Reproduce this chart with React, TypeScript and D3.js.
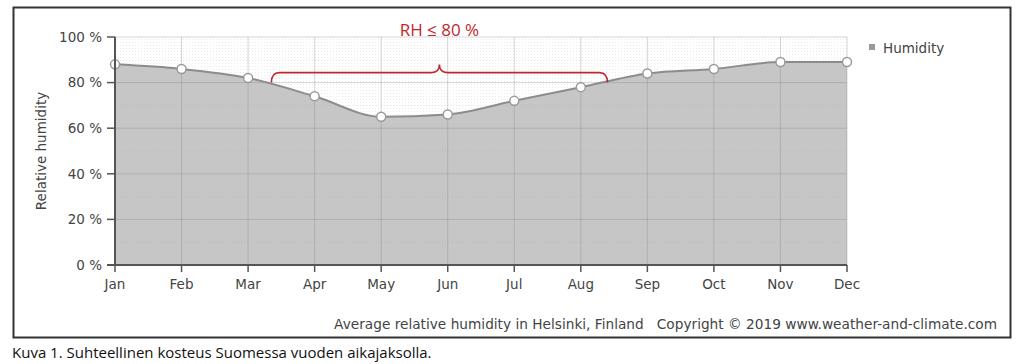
import * as d3 from "d3";

const months = ["Jan", "Feb", "Mar", "Apr", "May", "Jun", "Jul", "Aug", "Sep", "Oct", "Nov", "Dec"];
const humidity = [88, 86, 82, 74, 65, 66, 72, 78, 84, 86, 89, 89];
const yTicks = [0, 20, 40, 60, 80, 100];
const minorTicks = [10, 30, 50, 70, 90];
// where the curve is at or below 80 % (fractional month index)
const braceRange = [2.35, 7.4];
const braceLevel = 80;

const W = 1024;
const H = 364;
const font = "Tahoma, 'DejaVu Sans', Verdana, sans-serif";

export default function App() {
  const x = d3.scaleLinear().domain([0, months.length - 1]).range([115, 847]);
  const y = d3.scaleLinear().domain([0, 100]).range([265, 37]);

  const pts: [number, number][] = humidity.map((v, i) => [i, v]);
  const area = d3
    .area<[number, number]>()
    .x((d) => x(d[0]))
    .y0(y(0))
    .y1((d) => y(d[1]))
    .curve(d3.curveMonotoneX);
  const line = d3
    .line<[number, number]>()
    .x((d) => x(d[0]))
    .y((d) => y(d[1]))
    .curve(d3.curveMonotoneX);

  // curly brace
  const bx0 = x(braceRange[0]);
  const bx1 = x(braceRange[1]);
  const bm = (bx0 + bx1) / 2;
  const by = y(braceLevel) - 10;
  const bEnd = y(braceLevel);
  const r = 8;
  const brace = [
    `M${bx0},${bEnd}`,
    `Q${bx0},${by} ${bx0 + r},${by}`,
    `L${bm - r},${by}`,
    `Q${bm},${by} ${bm},${by - r}`,
    `Q${bm},${by} ${bm + r},${by}`,
    `L${bx1 - r},${by}`,
    `Q${bx1},${by} ${bx1},${bEnd}`,
  ].join(" ");

  return (
    <svg width={W} height={H} style={{ position: "absolute", left: 0, top: 0, background: "#fff" }}>
      <defs>
        <pattern id="dots" width="3" height="3" patternUnits="userSpaceOnUse">
          <rect width="3" height="3" fill="#fff" />
          <rect width="1" height="1" fill="#ececec" />
        </pattern>
      </defs>
      <rect x={13.5} y={7.5} width={997} height={330} fill="#fff" stroke="#333" strokeWidth={2} />

      {/* plot background */}
      <rect x={x(0)} y={y(100)} width={x(11) - x(0)} height={y(0) - y(100)} fill="url(#dots)" />

      <path d={area(pts) ?? ""} fill="#c6c6c6" />

      {/* minor grid */}
      {minorTicks.map((t) => (
        <line key={"m" + t} x1={x(0)} x2={x(11)} y1={y(t)} y2={y(t)} stroke="#888" strokeOpacity={0.15} strokeDasharray="1,2" />
      ))}
      {/* grid */}
      {yTicks.slice(1).map((t) => (
        <line key={"h" + t} x1={x(0)} x2={x(11)} y1={y(t)} y2={y(t)} stroke="#888" strokeOpacity={0.35} />
      ))}
      {months.slice(1).map((m, i) => (
        <line key={"v" + m} x1={x(i + 1)} x2={x(i + 1)} y1={y(100)} y2={y(0)} stroke="#888" strokeOpacity={0.35} />
      ))}

      <path d={line(pts) ?? ""} fill="none" stroke="#8c8c8c" strokeWidth={2} />
      {pts.map((d, i) => (
        <circle key={i} cx={x(d[0])} cy={y(d[1])} r={4.5} fill="#fff" stroke="#9a9a9a" strokeWidth={1.5} />
      ))}

      {/* axes */}
      <line x1={x(0)} x2={x(0)} y1={y(100)} y2={y(0)} stroke="#555" strokeWidth={2} />
      <line x1={x(0) - 8} x2={x(11)} y1={y(0)} y2={y(0)} stroke="#555" strokeWidth={2} />
      {yTicks.map((t) => (
        <g key={"yt" + t}>
          <line x1={x(0) - 8} x2={x(0)} y1={y(t)} y2={y(t)} stroke="#555" strokeWidth={1.5} />
          <text x={x(0) - 13} y={y(t)} dy="0.35em" textAnchor="end" fontFamily={font} fontSize={13.5} fill="#444">
            {t} %
          </text>
        </g>
      ))}
      {months.map((m, i) => (
        <g key={"xt" + m}>
          <line x1={x(i)} x2={x(i)} y1={y(0)} y2={y(0) + 7} stroke="#555" strokeWidth={1.5} />
          <text x={x(i)} y={y(0) + 24} textAnchor="middle" fontFamily={font} fontSize={13.5} fill="#444">
            {m}
          </text>
        </g>
      ))}
      <text
        transform={`translate(46,${(y(0) + y(100)) / 2}) rotate(-90)`}
        textAnchor="middle"
        fontFamily={font}
        fontSize={13.5}
        fill="#444"
      >
        Relative humidity
      </text>

      {/* legend */}
      <rect x={869} y={44} width={6} height={6} fill="#999" />
      <text x={883} y={48} dy="0.35em" fontFamily={font} fontSize={13.5} fill="#444">
        Humidity
      </text>

      {/* annotation */}
      <path d={brace} fill="none" stroke="#c0272d" strokeWidth={1.6} />
      <text x={bm} y={36} textAnchor="middle" fontFamily="'Open Sans', 'Noto Sans', sans-serif" fontSize={17} fill="#c0272d">
        RH ≤ 80 %
      </text>

      <text x={997} y={329} textAnchor="end" fontFamily={font} fontSize={13.7} fill="#444" xmlSpace="preserve">
        Average relative humidity in Helsinki, Finland   Copyright © 2019 www.weather-and-climate.com
      </text>

      <text x={12} y={358} fontFamily="'Open Sans', 'Noto Sans', sans-serif" fontSize={15} fill="#111">
        Kuva 1. Suhteellinen kosteus Suomessa vuoden aikajaksolla.
      </text>
    </svg>
  );
}
